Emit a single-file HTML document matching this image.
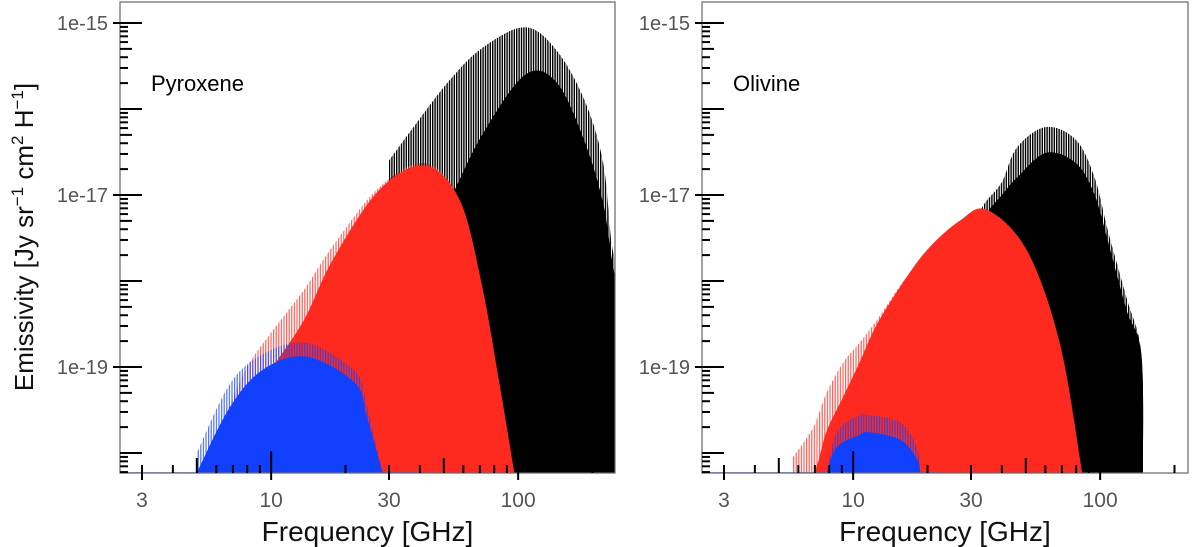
<!DOCTYPE html>
<html><head><meta charset="utf-8"><style>
body{margin:0;background:#fff;}
svg{display:block;font-family:"Liberation Sans",sans-serif;}
</style></head><body>
<svg id="chart" width="1200" height="547" viewBox="0 0 1200 547">
<defs>
<pattern id="pk" width="2.4" height="10" patternUnits="userSpaceOnUse"><rect width="1.4" height="10" fill="#000"/></pattern>
<pattern id="pr" width="2.6" height="10" patternUnits="userSpaceOnUse"><rect width="1.2" height="10" fill="#ff2a1f" opacity="0.75"/></pattern>
<pattern id="pb" width="2.6" height="10" patternUnits="userSpaceOnUse"><rect width="1.2" height="10" fill="#1140ff" opacity="0.75"/></pattern>
</defs>
</svg>
<script>
// ---- data (frequency in GHz, values as log10 emissivity) ----
const pyroBlackF = [30, 37.5, 51.9, 71.5, 107, 144, 187, 221, 238, 249];
const pyroBlackSpike = [-16.6, -16.22, -15.69, -15.29, -15.05, -15.33, -15.92, -16.63, -17.52, -17.8];
const pyroBlackSolid = [-18.3, -17.8, -17.1, -16.3, -15.6, -15.7, -16.4, -17.1, -17.7, -18.0];
const pyroRedF = [5.1, 6.43, 8.0, 10, 13.6, 17.7, 27.4, 42, 58, 71, 84, 96.5];
const pyroRedSpike = [-20.2, -19.6, -19.0, -18.6, -18.1, -17.6, -16.91, -16.63, -17.06, -18.02, -19.19, -20.3];
const pyroRedSolid = [-20.3, -19.97, -19.5, -19.03, -18.45, -17.76, -16.94, -16.66, -17.06, -18.02, -19.19, -20.3];
const pyroBlueF = [5.0, 6.8, 9.27, 13.9, 21.9, 24.4, 28.3];
const pyroBlueSpike = [-20.0, -19.2, -18.85, -18.72, -19.05, -19.45, -20.3];
const pyroBlueSolid = [-20.3, -19.47, -19.03, -18.88, -19.19, -19.58, -20.3];
const oliBlackF = [30, 34, 40, 46, 60.3, 79.8, 95, 108, 128, 147, 149];
const oliBlackSpike = [-17.4, -17.1, -16.85, -16.45, -16.21, -16.36, -16.8, -17.44, -18.2, -18.86, -20.3];
const oliBlackSolid = [-17.6, -17.25, -17.0, -16.8, -16.51, -16.63, -17.0, -17.56, -18.34, -18.86, -20.3];
const oliRedF = [5.7, 6.9, 7.8, 9.1, 10.6, 12.5, 16.5, 20.5, 27, 34.6, 50.4, 68.6, 84.6];
const oliRedSpike = [-20.05, -19.7, -19.3, -18.95, -18.72, -18.45, -17.95, -17.7, -17.41, -17.17, -17.64, -18.72, -20.3];
const oliRedSolid = [-20.3, -20.3, -19.75, -19.35, -18.95, -18.5, -17.95, -17.6, -17.3, -17.17, -17.64, -18.72, -20.3];
const oliBlueF = [7.8, 8.6, 10.6, 11.7, 15.6, 18.2, 18.7];
const oliBlueSpike = [-20.3, -19.75, -19.56, -19.56, -19.65, -19.95, -20.3];
const oliBlueSolid = [-20.3, -19.93, -19.79, -19.76, -19.85, -20.08, -20.3];
const yTickLabels = ["1e-15", "1e-17", "1e-19"];
const yTickValues = [-15, -17, -19];
const xTickValues = [3, 10, 30, 100];

const NS = "http://www.w3.org/2000/svg";
const svg = document.getElementById("chart");
const TOP = 2, BOT = 473;
function yScale(e){ return 195 - (e + 17) * 86; }
function mk(tag, attrs, parent){ const el = document.createElementNS(NS, tag); for (const k in attrs) el.setAttribute(k, attrs[k]); (parent||svg).appendChild(el); return el; }
function smoothPath(pts){
  let d = "M" + pts[0][0] + "," + pts[0][1];
  for (let i = 0; i < pts.length - 1; i++) {
    const p0 = pts[Math.max(i-1,0)], p1 = pts[i], p2 = pts[i+1], p3 = pts[Math.min(i+2, pts.length-1)];
    const c1x = p1[0] + (p2[0]-p0[0])/6, c1y = Math.min(p1[1] + (p2[1]-p0[1])/6, BOT);
    const c2x = p2[0] - (p3[0]-p1[0])/6, c2y = Math.min(p2[1] - (p3[1]-p1[1])/6, BOT);
    d += " C" + c1x + "," + c1y + " " + c2x + "," + c2y + " " + p2[0] + "," + p2[1];
  }
  return d;
}

function panel(name, left, right, x3, series, title, blueEnd){
  const g = mk("g", {});
  
  
  const xScale = f => x3 + (Math.log10(f) - Math.log10(3)) * 247;
  const clipId = "clip-" + name;
  const cp = mk("clipPath", {id: clipId}, g);
  mk("rect", {x: left, y: TOP, width: right-left, height: BOT-TOP}, cp);
  const plot = mk("g", {"clip-path": "url(#" + clipId + ")"}, g);
  series.forEach(s => {
    const bottom = " L" + xScale(s.f[s.f.length-1]) + "," + (BOT+5) + " L" + xScale(s.f[0]) + "," + (BOT+5) + " Z";
    const pts1 = s.f.map((f,i)=>[xScale(f), Math.min(yScale(s.spike[i]), BOT)]);
    const p1 = mk("path", {d: smoothPath(pts1) + bottom, fill: "url(#" + s.pat + ")"}, plot);
    
    
    const pts2 = s.f.map((f,i)=>[xScale(f), Math.min(yScale(s.solid[i]), BOT)]);
    const p2 = mk("path", {d: smoothPath(pts2) + bottom, fill: s.color}, plot);
    
    
  });
  mk("line", {x1: left, x2: xScale(blueEnd), y1: BOT, y2: BOT, stroke: "#3a5cff", "stroke-width": 1.5}, plot);
  const fr = mk("rect", {x: left, y: TOP, width: right-left, height: BOT-TOP, fill: "none", stroke: "#666", "stroke-width": 1.2}, g);
  
  
  for (let dec = -21; dec <= -15; dec++) {
    for (let m = 1; m < 10; m++) {
      const e = dec + Math.log10(m);
      const y = yScale(e);
      if (y < TOP || y > BOT) continue;
      const major = yTickValues.includes(e) && m === 1;
      const len = m === 1 ? 22 : (m === 5 ? 12 : 8);
      mk("line", {x1: major ? left-7 : left, x2: left+len, y1: y, y2: y, stroke: "#000", "stroke-width": 2}, g);
    }
  }
  yTickValues.forEach((v,i)=>{
    const t = mk("text", {x: left-12, y: yScale(v)+7, "text-anchor": "end", "font-size": 20, fill: "#555"}, g);
    t.textContent = yTickLabels[i];
    
    
  });
  for (let dec = 0; dec <= 2; dec++) {
    for (let m = 1; m < 10; m++) {
      const f = m * Math.pow(10, dec);
      const x = xScale(f);
      if (x < left || x > right) continue;
      const labeled = xTickValues.includes(f);
      const len = m === 1 ? 22 : (m === 5 ? 15 : 8);
      mk("line", {x1: x, x2: x, y1: labeled ? BOT+7 : BOT, y2: BOT-len, stroke: "#000", "stroke-width": 2}, g);
    }
  }
  xTickValues.forEach(v=>{
    const t = mk("text", {x: xScale(v), y: 507, "text-anchor": "middle", "font-size": 21, fill: "#555"}, g);
    t.textContent = v;
    
    
  });
  const xt = mk("text", {x: (left+right)/2, y: 541, "text-anchor": "middle", "font-size": 28, fill: "#111"}, g);
  xt.textContent = "Frequency [GHz]";
  
  
  const tt = mk("text", {x: left+31, y: 91, "font-size": 22, fill: "#000"}, g);
  tt.textContent = title;
  
  
}

panel("pyroxene", 120, 615, 142, [
  {id:"black", f: pyroBlackF, spike: pyroBlackSpike, solid: pyroBlackSolid, color:"#000", pat:"pk"},
  {id:"red", f: pyroRedF, spike: pyroRedSpike, solid: pyroRedSolid, color:"#ff2a1f", pat:"pr"},
  {id:"blue", f: pyroBlueF, spike: pyroBlueSpike, solid: pyroBlueSolid, color:"#1140ff", pat:"pb"}
], "Pyroxene", 40);
panel("olivine", 702, 1188, 724, [
  {id:"black", f: oliBlackF, spike: oliBlackSpike, solid: oliBlackSolid, color:"#000", pat:"pk"},
  {id:"red", f: oliRedF, spike: oliRedSpike, solid: oliRedSolid, color:"#ff2a1f", pat:"pr"},
  {id:"blue", f: oliBlueF, spike: oliBlueSpike, solid: oliBlueSolid, color:"#1140ff", pat:"pb"}
], "Olivine", 22);

const yl = mk("text", {x: 0, y: 0, transform: "translate(33,237) rotate(-90)", "text-anchor": "middle", "font-size": 26, fill: "#111"});
yl.innerHTML = 'Emissivity [Jy sr<tspan dy="-10" font-size="17">−1</tspan><tspan dy="10"> cm</tspan><tspan dy="-10" font-size="17">2</tspan><tspan dy="10"> H</tspan><tspan dy="-10" font-size="17">−1</tspan><tspan dy="10">]</tspan>';


</script>
</body></html>
